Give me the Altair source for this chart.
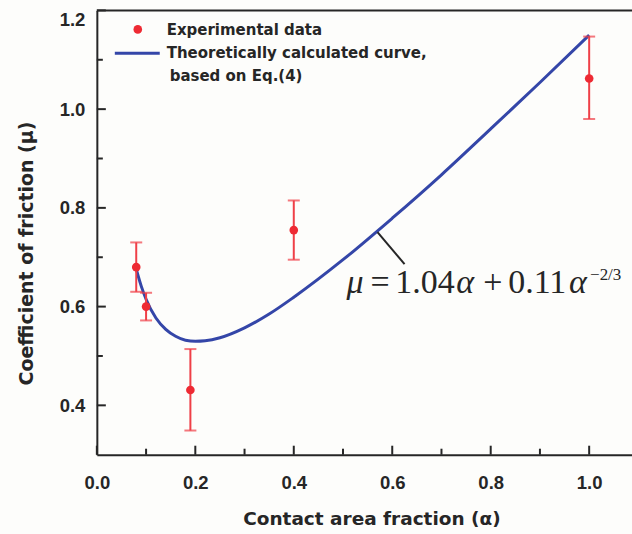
import altair as alt
import pandas as pd

# ---- data ----
exp_alpha = [0.08, 0.10, 0.19, 0.40, 1.00]
exp_mu = [0.680, 0.600, 0.431, 0.755, 1.062]
exp_lo = [0.630, 0.572, 0.349, 0.695, 0.980]
exp_hi = [0.730, 0.628, 0.514, 0.815, 1.147]

curve_alpha = [0.08, 0.09, 0.10, 0.12, 0.14, 0.16, 0.18, 0.20, 0.22, 0.25,
               0.30, 0.35, 0.40, 0.50, 0.60, 0.70, 0.80, 0.90, 1.00]
curve_mu = [0.676, 0.642, 0.615, 0.577, 0.554, 0.540, 0.532, 0.530, 0.531, 0.537,
            0.557, 0.585, 0.619, 0.695, 0.779, 0.867, 0.960, 1.054, 1.150]

x_major = [0.0, 0.2, 0.4, 0.6, 0.8, 1.0]
x_minor = [0.1, 0.3, 0.5, 0.7, 0.9]
y_major = [0.4, 0.6, 0.8, 1.0, 1.2]
y_minor = [0.5, 0.7, 0.9, 1.1]

pointer_alpha = [0.57, 0.625]
pointer_mu = [0.751, 0.686]

W, H = 536, 445
RED = "#ee2a33"
RED_BAR = "#ef3f47"
BLUE = "#3446a8"
INK = "#262626"
SANS = "DejaVu Sans"
TICKF = "Liberation Sans"
SERIF = "Liberation Serif"

exp_df = pd.DataFrame({"a": exp_alpha, "mu": exp_mu, "lo": exp_lo, "hi": exp_hi})
curve_df = pd.DataFrame({"a": curve_alpha, "mu": curve_mu})
ptr_df = pd.DataFrame({"a": pointer_alpha, "mu": pointer_mu})

xs = alt.Scale(domain=[0, 1.087], nice=False, zero=False)
ys = alt.Scale(domain=[0.3, 1.2], nice=False, zero=False)

X_TITLE = "Contact area fraction (α)"
Y_TITLE = "Coefficient of friction (μ)"

x_axis = alt.Axis(
    values=x_major, format=".1f", ticks=False, grid=False,
    domainColor=INK, domainWidth=2,
    labelFont=TICKF, labelFontWeight="bold", labelFontSize=18.5, labelColor=INK,
    labelPadding=19, labelFlush=False,
    titleFont=SANS, titleFontWeight="bold",
    titleFontSize=18.5, titleColor=INK, titleX=275, titleY=64,
    titleBaseline="middle", titleAlign="center",
)
y_axis = alt.Axis(
    values=y_major, format=".1f", ticks=False, grid=False,
    domainColor=INK, domainWidth=2,
    labelFont=TICKF, labelFontWeight="bold", labelFontSize=18.5, labelColor=INK,
    labelPadding=12, labelFlush=True,
    titleFont=SANS, titleFontWeight="bold",
    titleFontSize=19, titleColor=INK, titleX=-70, titleY=243,
    titleBaseline="middle", titleAlign="center", titleAngle=-90,
)


def X(field):
    return alt.X(field, scale=xs, axis=x_axis, title=X_TITLE)


def Y(field):
    return alt.Y(field, scale=ys, axis=y_axis, title=Y_TITLE)


curve = alt.Chart(curve_df).mark_line(color=BLUE, strokeWidth=3, interpolate="monotone").encode(
    x=X("a:Q"), y=Y("mu:Q"))

err = alt.Chart(exp_df).mark_rule(color=RED_BAR, strokeWidth=2).encode(
    x=X("a:Q"), y=Y("lo:Q"), y2="hi:Q")
cap_lo = alt.Chart(exp_df).mark_tick(color=RED_BAR, orient="horizontal", size=12, thickness=2).encode(
    x=X("a:Q"), y=Y("lo:Q"))
cap_hi = alt.Chart(exp_df).mark_tick(color=RED_BAR, orient="horizontal", size=12, thickness=2).encode(
    x=X("a:Q"), y=Y("hi:Q"))
pts = alt.Chart(exp_df).mark_circle(color=RED, size=75, opacity=1).encode(
    x=X("a:Q"), y=Y("mu:Q"))

# inward axis ticks
yt_major = alt.Chart(pd.DataFrame({"v": y_major})).mark_rule(color=INK, strokeWidth=2).encode(
    y=Y("v:Q"), x=alt.value(0), x2=alt.value(9))
yt_minor = alt.Chart(pd.DataFrame({"v": y_minor})).mark_rule(color=INK, strokeWidth=2).encode(
    y=Y("v:Q"), x=alt.value(0), x2=alt.value(6))
xt_major = alt.Chart(pd.DataFrame({"v": x_major})).mark_rule(color=INK, strokeWidth=2).encode(
    x=X("v:Q"), y=alt.value(H), y2=alt.value(H - 9))
xt_minor = alt.Chart(pd.DataFrame({"v": x_minor})).mark_rule(color=INK, strokeWidth=2).encode(
    x=X("v:Q"), y=alt.value(H), y2=alt.value(H - 6))

top_border = alt.Chart(pd.DataFrame({"k": [0]})).mark_rule(color=INK, strokeWidth=2).encode(
    x=alt.value(0), x2=alt.value(W), y=alt.value(0))

# pointer from the curve to the equation
pointer = alt.Chart(ptr_df).mark_line(color=INK, strokeWidth=2).encode(
    x=X("a:Q"), y=Y("mu:Q"))

# legend
leg_dot = alt.Chart(pd.DataFrame({"k": [0]})).mark_circle(color=RED, size=75, opacity=1).encode(
    x=alt.value(41), y=alt.value(19))
leg_line = alt.Chart(pd.DataFrame({"k": [0]})).mark_rule(color=BLUE, strokeWidth=3).encode(
    x=alt.value(18), x2=alt.value(63), y=alt.value(43))


def label(txt, x, y, **kw):
    return alt.Chart(pd.DataFrame({"t": [txt]})).mark_text(**kw).encode(
        text="t:N", x=alt.value(x), y=alt.value(y))


leg_kw = dict(font=SANS, fontWeight="bold", fontSize=15, color=INK, align="left", baseline="middle")
leg_t1 = label("Experimental data", 70, 20, **leg_kw)
leg_t2 = label("Theoretically calculated curve,", 70, 43, **leg_kw)
leg_t3 = label("based on Eq.(4)", 73, 66, **leg_kw)

# equation  mu = 1.04 alpha + 0.11 alpha^(-2/3)
eq_base = 283
eq_it = dict(font=SERIF, fontStyle="italic", fontSize=34, color=INK, align="left", baseline="alphabetic")
eq_rm = dict(font=SERIF, fontSize=34, color=INK, align="left", baseline="alphabetic")
eq = [
    label("μ", 250, eq_base, **eq_it),
    label("=", 274, eq_base, **eq_rm),
    label("1.04", 299, eq_base, **eq_rm),
    label("α", 360, eq_base, **eq_it),
    label("+", 387, eq_base, **eq_rm),
    label("0.11", 412, eq_base, **eq_rm),
    label("α", 473, eq_base, **eq_it),
    label("−2/3", 494, eq_base - 13, font=SERIF, fontSize=17, color=INK, align="left", baseline="alphabetic"),
]

chart = alt.layer(
    curve, err, cap_lo, cap_hi, pts,
    yt_major, yt_minor, xt_major, xt_minor, top_border, pointer,
    leg_dot, leg_line, leg_t1, leg_t2, leg_t3, *eq,
).properties(
    width=W, height=H,
    padding={"left": 97, "top": 10, "right": 0, "bottom": 79},
    autosize=alt.AutoSizeParams(type="none"),
    background="#fdfdfb",
).configure_view(stroke=None)

chart.save("out.html", embed_options={"renderer": "svg", "actions": False})
